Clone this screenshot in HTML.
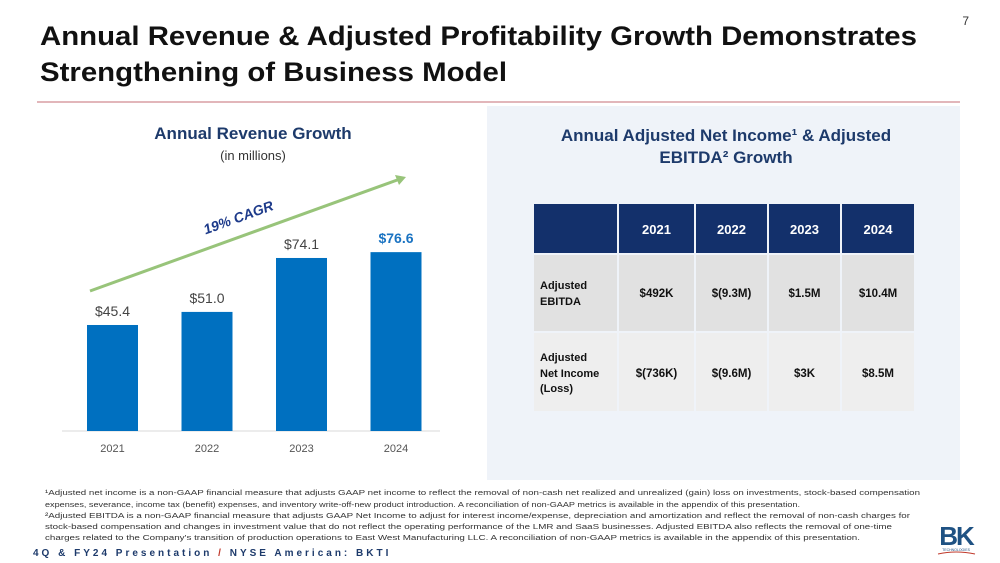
<!DOCTYPE html>
<html><head><meta charset="utf-8"><style>
html,body{margin:0;padding:0;background:#fff;}
svg{display:block;font-family:"Liberation Sans",sans-serif;}
</style></head><body>
<svg id="slide" width="1000" height="563" viewBox="0 0 1000 563" xmlns="http://www.w3.org/2000/svg">
<rect x="0" y="0" width="1000" height="563" fill="#fff"/>
<text x="40" y="45" font-size="27" font-weight="bold" fill="#111" textLength="877" lengthAdjust="spacingAndGlyphs">Annual Revenue &amp; Adjusted Profitability Growth Demonstrates</text>
<text x="40" y="81" font-size="27" font-weight="bold" fill="#111" textLength="467" lengthAdjust="spacingAndGlyphs">Strengthening of Business Model</text>
<text x="969" y="25" font-size="12" fill="#333" text-anchor="end">7</text>
<line x1="37" y1="102" x2="960" y2="102" stroke="#d08a90" stroke-width="1.3"/>
<rect x="487" y="106" width="473" height="374" fill="#eff3f9"/>

<g id="chart">
<text x="253" y="139" font-size="17" font-weight="bold" fill="#1d3a6b" text-anchor="middle">Annual Revenue Growth</text>
<text x="253" y="160" font-size="13" fill="#333" text-anchor="middle">(in millions)</text>
<line x1="62" y1="431" x2="440" y2="431" stroke="#d9d9d9" stroke-width="1"/>
<line x1="90" y1="291" x2="400" y2="179" stroke="#98c47a" stroke-width="3"/>
<polygon points="406,177 395,175 399,185" fill="#98c47a"/>
<text x="240" y="222" font-size="14" font-weight="bold" font-style="italic" fill="#1d3a8a" text-anchor="middle" transform="rotate(-20 240 222)">19% CAGR</text>
</g>

<g id="table">
<text x="726" y="141" font-size="17" font-weight="bold" fill="#1d3a6b" text-anchor="middle">Annual Adjusted Net Income¹ &amp; Adjusted</text>
<text x="726" y="163" font-size="17" font-weight="bold" fill="#1d3a6b" text-anchor="middle">EBITDA² Growth</text>
</g>

<g font-size="7.6" fill="#333">
<text x="45" y="495" textLength="875" lengthAdjust="spacingAndGlyphs">¹Adjusted net income is a non-GAAP financial measure that adjusts GAAP net income to reflect the removal of non-cash net realized and unrealized (gain) loss on investments, stock-based compensation</text>
<text x="45" y="507" textLength="755" lengthAdjust="spacingAndGlyphs">expenses, severance, income tax (benefit) expenses, and inventory write-off-new product introduction. A reconciliation of non-GAAP metrics is available in the appendix of this presentation.</text>
<text x="45" y="518" textLength="865" lengthAdjust="spacingAndGlyphs">²Adjusted EBITDA is a non-GAAP financial measure that adjusts GAAP Net Income to adjust for interest income/expense, depreciation and amortization and reflect  the removal of non-cash charges for</text>
<text x="45" y="529" textLength="847" lengthAdjust="spacingAndGlyphs">stock-based compensation and changes in investment value that do not reflect the operating performance of the LMR and SaaS businesses.  Adjusted EBITDA also reflects the removal of one-time</text>
<text x="45" y="540" textLength="815" lengthAdjust="spacingAndGlyphs">charges related to the Company's transition of production operations to East West Manufacturing LLC.  A reconciliation of non-GAAP metrics is available in the appendix of this presentation.</text>
</g>
<text x="33" y="556" font-size="10" font-weight="bold" fill="#1d3a6b" letter-spacing="3">4Q &amp; FY24 Presentation <tspan fill="#c0392b">/</tspan> NYSE American: BKTI</text>
<g>
<text x="956" y="545" font-size="26" font-weight="bold" fill="#1f5283" text-anchor="middle" letter-spacing="-2">BK</text>
<text x="956" y="551" font-size="3.5" fill="#1f5283" text-anchor="middle">TECHNOLOGIES</text>
<path d="M938 554 Q956 550 975 554" stroke="#c0392b" stroke-width="1" fill="none"/>
</g>
</svg>
<script>
const years = ["2021","2022","2023","2024"];
const revenue = [45.4, 51.0, 74.1, 76.6];
const revenueLabels = ["$45.4","$51.0","$74.1","$76.6"];
const tableCols = ["2021","2022","2023","2024"];
const ebitdaVals = ["$492K","$(9.3M)","$1.5M","$10.4M"];
const netIncomeVals = ["$(736K)","$(9.6M)","$3K","$8.5M"];

const NS = "http://www.w3.org/2000/svg";
function mk(tag, attrs, parent, txt){
  const e = document.createElementNS(NS, tag);
  for (const k in attrs) e.setAttribute(k, attrs[k]);
  if (txt !== undefined) e.textContent = txt;
  parent.appendChild(e);
  return e;
}
const chart = document.getElementById("chart");
const base = 431, pxPerUnit = 2.335;
const xBand = i => 87 + i * 94.5;
const yScale = v => base - v * pxPerUnit;
const barW = 51;
years.forEach((y, i) => {
  const x = xBand(i), top = yScale(revenue[i]);
  const r = mk("rect", {x: x, y: top, width: barW, height: base - top, fill: "#0070c0"}, chart);
  
  
  const last = i === years.length - 1;
  const lbl = mk("text", {x: x + barW/2, y: top - 9, "font-size": 14, "text-anchor": "middle",
    fill: last ? "#1a73c2" : "#444", "font-weight": last ? "bold" : "normal"}, chart, revenueLabels[i]);
  
  
  const t = mk("text", {x: x + barW/2, y: 452, "font-size": 11, "text-anchor": "middle", fill: "#555"}, chart, y);
  
  
});

const tbl = document.getElementById("table");
const colX = [533, 618, 695, 768, 841, 915];
const rowY = [203, 254, 332, 412];
const rowFill = ["#13306b", "#e1e1e1", "#eeeeee"];
for (let r = 0; r < 3; r++) {
  for (let c = 0; c < 5; c++) {
    const cell = mk("rect", {x: colX[c] + 1, y: rowY[r] + 1, width: colX[c+1] - colX[c] - 2, height: rowY[r+1] - rowY[r] - 2, fill: rowFill[r]}, tbl);
    
    
  }
}
tableCols.forEach((h, c) => {
  const cx = (colX[c+1] + colX[c+2]) / 2;
  const t = mk("text", {x: cx, y: 234, "font-size": 13, "font-weight": "bold", fill: "#fff", "text-anchor": "middle"}, tbl, h);
  
  
  const e = mk("text", {x: cx, y: 297, "font-size": 11.5, "font-weight": "bold", fill: "#111", "text-anchor": "middle"}, tbl, ebitdaVals[c]);
  
  
  const n = mk("text", {x: cx, y: 377, "font-size": 11.5, "font-weight": "bold", fill: "#111", "text-anchor": "middle"}, tbl, netIncomeVals[c]);
  
  
});
const rl1 = [["Adjusted", 289], ["EBITDA", 305]];
rl1.forEach(([s, y]) => {
  const t = mk("text", {x: 540, y: y, "font-size": 11, "font-weight": "bold", fill: "#111"}, tbl, s);
  
  
});
const rl2 = [["Adjusted", 361], ["Net Income", 377], ["(Loss)", 392]];
rl2.forEach(([s, y]) => {
  const t = mk("text", {x: 540, y: y, "font-size": 11, "font-weight": "bold", fill: "#111"}, tbl, s);
  
  
});
</script>
</body></html>
